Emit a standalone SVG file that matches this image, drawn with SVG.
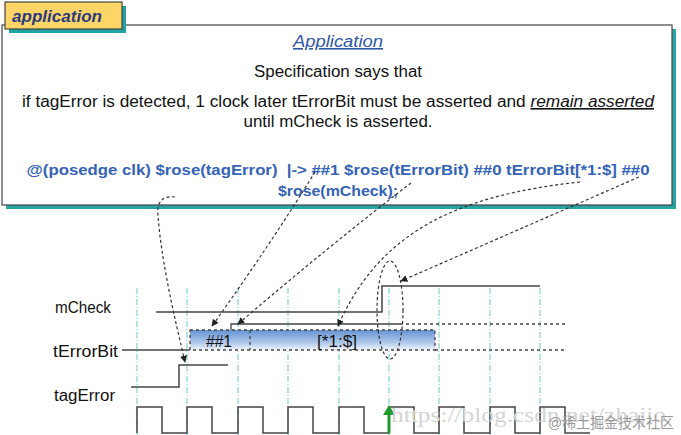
<svg xmlns="http://www.w3.org/2000/svg" width="681" height="435" viewBox="0 0 681 435">
<style>
text{font-family:"Liberation Sans",Arial,sans-serif;}
.body{font-size:16px;fill:#111;text-anchor:middle;}
.code{font-size:15px;font-weight:bold;fill:#3563b5;text-anchor:middle;white-space:pre;}
.lbl{font-size:16px;fill:#111;}
.grid{stroke:#6cc9c9;stroke-width:1;stroke-dasharray:6 2 1 2;fill:none;}
.wave{stroke:#444;stroke-width:1.5;fill:none;}
.dash{stroke:#444;stroke-width:1.3;stroke-dasharray:3 3;fill:none;}
.conn{stroke:#333;stroke-width:1.2;stroke-dasharray:3 2.5;fill:none;marker-end:url(#ah);}
</style>
<defs>
<marker id="ah" viewBox="0 0 10 10" refX="9" refY="5" markerWidth="7" markerHeight="7" orient="auto" markerUnits="userSpaceOnUse">
<path d="M0,0 L10,5 L0,10 z" fill="#222"/>
</marker>
<linearGradient id="bg" x1="0" y1="0" x2="0" y2="1">
<stop offset="0" stop-color="#6593d4"/>
<stop offset="0.65" stop-color="#b2c9ea"/>
<stop offset="1" stop-color="#f1f5fc"/>
</linearGradient>
</defs>
<rect width="681" height="435" fill="#fff"/>

<g id="spec-box">
<rect x="6" y="29" width="670" height="180" fill="#27a5a5"/>
<rect x="2" y="25" width="670" height="180" fill="#fff" stroke="#444" stroke-width="1.2"/>
<text class="body" x="338" y="47" textLength="90" lengthAdjust="spacingAndGlyphs" style="font-style:italic;fill:#2f57aa;text-decoration:underline;">Application</text>
<text class="body" x="338" y="77" textLength="168" lengthAdjust="spacingAndGlyphs">Specification says that</text>
<text class="body" x="338" y="107" textLength="632" lengthAdjust="spacingAndGlyphs">if tagError is detected, 1 clock later tErrorBit must be asserted and <tspan style="font-style:italic;text-decoration:underline;">remain asserted</tspan></text>
<text class="body" x="338" y="127" textLength="189" lengthAdjust="spacingAndGlyphs">until mCheck is asserted.</text>
<text class="code" x="338" y="175" textLength="623" lengthAdjust="spacingAndGlyphs">@(posedge clk) $rose(tagError)  |-&gt; ##1 $rose(tErrorBit) ##0 tErrorBit[*1:$] ##0</text>
<text class="code" x="338" y="196" textLength="120" lengthAdjust="spacingAndGlyphs">$rose(mCheck);</text>
</g>

<g id="header-tab">
<rect x="9" y="6" width="117" height="27" fill="#22a3a3"/>
<rect x="5" y="2" width="117" height="27" fill="#fdd466" stroke="#444" stroke-width="1.2"/>
<text x="12" y="22" textLength="90" lengthAdjust="spacingAndGlyphs" style="font-size:17px;font-weight:bold;font-style:italic;fill:#2c3b7c;">application</text>
</g>

<g id="grid">
<line class="grid" x1="137" y1="288" x2="137" y2="435"/>
<line class="grid" x1="187" y1="288" x2="187" y2="435"/>
<line class="grid" x1="238" y1="288" x2="238" y2="435"/>
<line class="grid" x1="288" y1="288" x2="288" y2="435"/>
<line class="grid" x1="339" y1="288" x2="339" y2="435"/>
<line class="grid" x1="389" y1="288" x2="389" y2="435"/>
<line class="grid" x1="439" y1="288" x2="439" y2="435"/>
<line class="grid" x1="490" y1="288" x2="490" y2="435"/>
<line class="grid" x1="540" y1="288" x2="540" y2="435"/>
</g>

<g id="labels">
<text class="lbl" x="55" y="313" textLength="56" lengthAdjust="spacingAndGlyphs">mCheck</text>
<text class="lbl" x="53" y="357" textLength="65" lengthAdjust="spacingAndGlyphs">tErrorBit</text>
<text class="lbl" x="54" y="401" textLength="61" lengthAdjust="spacingAndGlyphs">tagError</text>
</g>

<g id="mCheck">
<path class="wave" d="M156,312 H382 V286 H540"/>
</g>

<g id="tErrorBit">
<path class="wave" d="M122,350 H190"/>
<rect x="190" y="330" width="245" height="20" fill="url(#bg)"/>
<rect class="dash" x="190" y="330" width="245" height="20"/>
<line class="dash" x1="250" y1="330" x2="250" y2="350"/>
<path class="wave" d="M231,330 V324 H400" style="stroke-width:1.3"/>
<line class="dash" x1="400" y1="324" x2="567" y2="324"/>
<line class="dash" x1="435" y1="350" x2="567" y2="350"/>
<text x="206" y="347" textLength="26" lengthAdjust="spacingAndGlyphs" style="font-size:17px;fill:#111;">##1</text>
<text x="317" y="347" textLength="40" lengthAdjust="spacingAndGlyphs" style="font-size:17px;fill:#111;">[*1:$]</text>
</g>

<g id="tagError">
<path class="wave" d="M131,387 H179 V365 H228"/>
</g>

<g id="clk">
<path class="wave" d="M137,433 V407 H162 V433 H187 V407 H212 V433 H238 V407 H263 V433 H288 V407 H313 V433 H339 V407 H364 V433 H389 V407 H414 V433 H439 V407 H464 V433 H490 V407 H515 V433 H540 V407 H565 V433 H590"/>
<line x1="389" y1="433" x2="389" y2="413" stroke="#1e9a2a" stroke-width="3"/>
<path d="M383,415 L389,405 L395,415 z" fill="#1e9a2a"/>
</g>

<g id="connectors">
<path class="conn" d="M175,197 C160,195 157,205 158,215 C161,260 175,320 185,362"/>
<path class="conn" d="M315,172 Q270,245 212,326"/>
<path class="conn" d="M411,183 Q330,245 238,324"/>
<path class="conn" d="M580,182 C460,195 380,230 338,326"/>
<path class="conn" d="M639,177 L401,281"/>
<ellipse cx="390" cy="310" rx="13" ry="49" fill="none" stroke="#333" stroke-width="1.2" stroke-dasharray="3 2.5"/>
</g>

<g id="watermark">
<text x="391" y="422" textLength="275" lengthAdjust="spacingAndGlyphs" style="font-family:'Liberation Serif',serif;font-size:20px;fill:#d4d4d4;">https://blog.csdn.net/zhajio</text>
<text x="548" y="428" textLength="126" lengthAdjust="spacingAndGlyphs" style="font-family:'Liberation Sans','Noto Sans CJK SC',sans-serif;font-size:15px;fill:#9a9a9a;">@稀土掘金技术社区</text>
</g>
</svg>
